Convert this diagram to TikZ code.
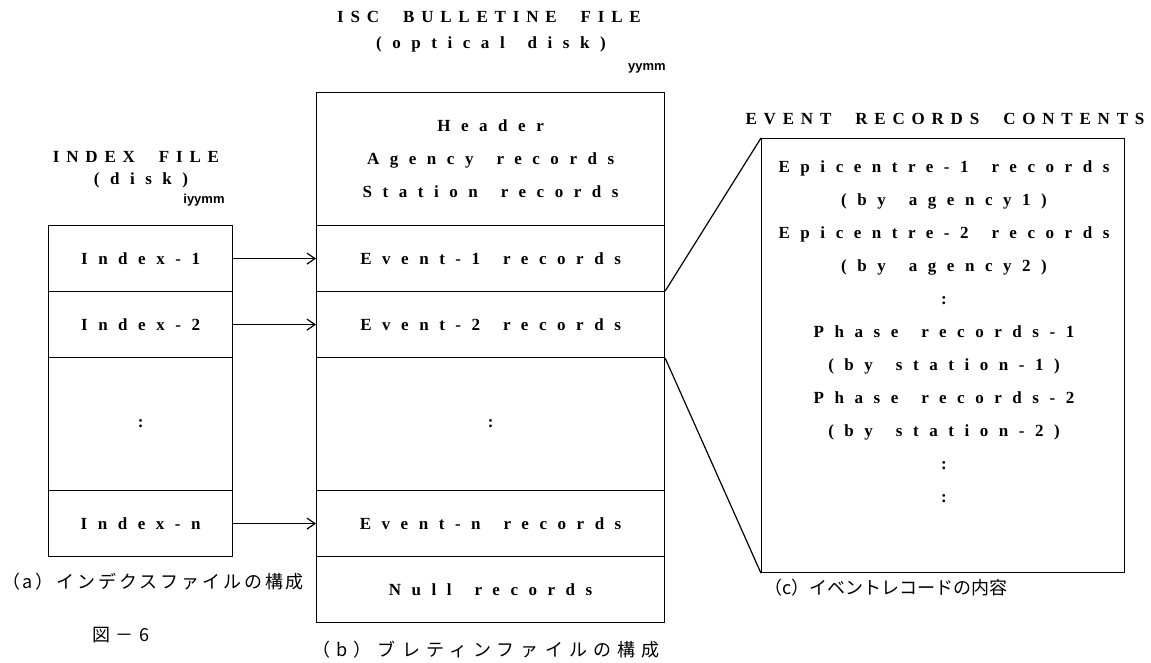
\documentclass[tikz,border=0pt]{standalone}
\usepackage{fontspec}
\usetikzlibrary{arrows.meta}
\setmainfont{Liberation Serif}
\newfontfamily\spcfont[LetterSpace=62]{Liberation Serif}
\newfontfamily\capsfont[LetterSpace=40]{Liberation Serif}
\newfontfamily\jpfont{Noto Sans CJK JP}
\newfontfamily\jpwfont[LetterSpace=16]{Noto Sans CJK JP}
\newfontfamily\jpwwfont[LetterSpace=34]{Noto Sans CJK JP}
\newfontfamily\smallsans{Liberation Sans}
\newcommand\tx{\fontsize{17}{33}\spcfont\bfseries\spaceskip=23pt\relax}
\newcommand\txcaps{\fontsize{17}{33}\capsfont\bfseries\spaceskip=24pt\relax}
\begin{document}
\begin{tikzpicture}[x=1pt,y=-1pt,
  row/.style={draw, line width=1.2pt, minimum width=#1, inner sep=0pt, anchor=north west, font=\tx, align=center},
  rowh/.style={minimum height=66pt},
  rowt/.style={minimum height=133pt},
  lbl/.style={font=\tx, inner sep=0pt, align=center},
  ttl/.style={font=\txcaps, inner sep=0pt, align=center},
  tag/.style={font=\fontsize{13}{14}\smallsans\bfseries, inner sep=0pt},
  jcap/.style={font=\fontsize{18}{20}\jpfont, inner sep=0pt},
  jcapw/.style={font=\fontsize{18}{20}\jpwfont, inner sep=0pt},
  jcapww/.style={font=\fontsize{18}{20}\jpwwfont, inner sep=0pt},
  arr/.style={line width=1.2pt, -{Straight Barb[length=8pt,width=11pt]}},
  lnk/.style={line width=1.2pt}]
\useasboundingbox (0,0) rectangle (1151,662);
% titles
\node[ttl] (t1) at (489,17) {ISC BULLETINE FILE};
\node[lbl] (t2) at (491,44) {(optical disk)};
\node[tag] (t3) at (647,68) {yymm};
\node[ttl] (t4) at (136,157) {INDEX FILE};
\node[lbl] (t5) at (141,180) {(disk)};
\node[tag] (t6) at (204,200) {iyymm};
\node[ttl] (t7) at (945,119) {EVENT RECORDS CONTENTS};
% index file
\node[row=184pt, rowh] (i1) at (48,225) {Index-1};
\node[row=184pt, rowh] (i2) at (48,291) {Index-2};
\node[row=184pt, rowt] (id) at (48,357) {:};
\node[row=184pt, rowh] (in) at (48,490) {Index-n};
% bulletin file
\node[row=348pt, rowt] (bh) at (316,92) {Header\\Agency records\\Station records};
\node[row=348pt, rowh] (b1) at (316,225) {Event-1 records};
\node[row=348pt, rowh] (b2) at (316,291) {Event-2 records};
\node[row=348pt, rowt] (bd) at (316,357) {:};
\node[row=348pt, rowh] (bn) at (316,490) {Event-n records};
\node[row=348pt, rowh] (bz) at (316,556) {Null records};
% contents box
\node[row=363pt, minimum height=434pt] (c) at (761,138) {};
\node[lbl, anchor=north] (ct) at (944,160) {Epicentre-1 records\\(by agency1)\\Epicentre-2 records\\(by agency2)\\:\\Phase records-1\\(by station-1)\\Phase records-2\\(by station-2)\\:\\:};
% arrows
\draw[arr] (i1.east) -- (b1.west);
\draw[arr] (i2.east) -- (b2.west);
\draw[arr] (in.east) -- (bn.west);
% expansion lines
\draw[lnk] (b2.north east) -- (c.north west);
\draw[lnk] (b2.south east) -- (c.south west);
% captions
\node[jcapw] (ca) at (153,582) {（a）インデクスファイルの構成};
\node[jcap] (cf) at (121,635) {図\hspace{6pt}－\hspace{6pt}6};
\node[jcapww] (cb) at (486,650) {（b）ブレティンファイルの構成};
\node[jcap] (cc) at (886,588) {（c）イベントレコードの内容};
\end{tikzpicture}
\end{document}
